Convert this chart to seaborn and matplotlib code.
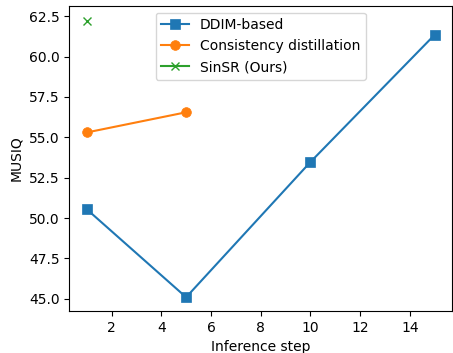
import matplotlib
matplotlib.use("Agg")
import matplotlib.pyplot as plt
import seaborn as sns
import pandas as pd

ddim_steps = [1, 5, 10, 15]
ddim_musiq = [50.55, 45.1, 53.47, 61.35]
cd_steps = [1, 5]
cd_musiq = [55.3, 56.55]
sinsr_steps = [1]
sinsr_musiq = [62.22]

fig = plt.figure(figsize=(4.53, 3.53), dpi=100)
ax = fig.add_axes([0.153, 0.119, 0.845, 0.865])

colors = ["#1f77b4", "#ff7f0e", "#2ca02c"]
sns.lineplot(x=ddim_steps, y=ddim_musiq, ax=ax, color=colors[0], marker="s",
             markersize=7, markeredgecolor=colors[0], markeredgewidth=0.5,
             linewidth=1.5, label="DDIM-based")
sns.lineplot(x=cd_steps, y=cd_musiq, ax=ax, color=colors[1], marker="o",
             markersize=7, markeredgecolor=colors[1], markeredgewidth=0.5,
             linewidth=1.5, label="Consistency distillation")
sns.lineplot(x=sinsr_steps, y=sinsr_musiq, ax=ax, color=colors[2], marker="x",
             markersize=6, markeredgecolor=colors[2], markeredgewidth=1.0,
             linewidth=1.5, label="SinSR (Ours)")

ax.set_xlabel("Inference step")
ax.set_ylabel("MUSIQ")
ax.set_xlim(0.3, 15.7)
ax.set_ylim(44.25, 63.15)
ax.set_xticks([2, 4, 6, 8, 10, 12, 14])
ax.set_yticks([45.0, 47.5, 50.0, 52.5, 55.0, 57.5, 60.0, 62.5])
ax.set_yticklabels(["45.0", "47.5", "50.0", "52.5", "55.0", "57.5", "60.0", "62.5"])
ax.legend(loc="upper center")
fig.savefig("out.png", dpi=100)
